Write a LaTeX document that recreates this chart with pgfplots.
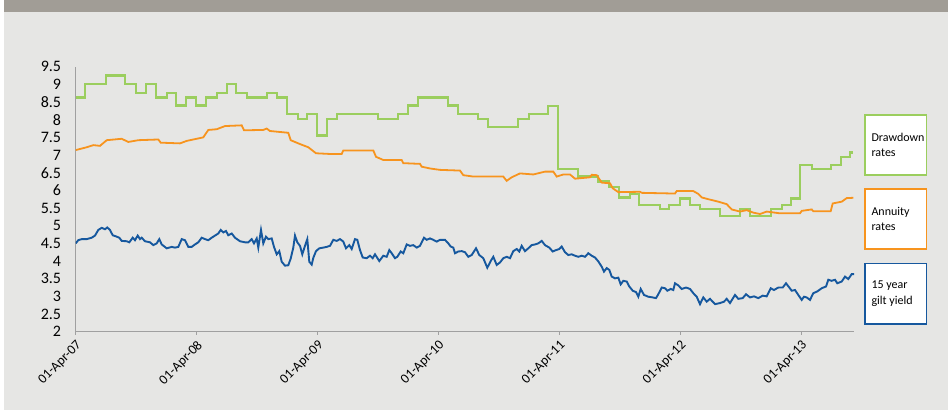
\documentclass[border=0pt]{standalone}
\usepackage{fontspec}
\setmainfont{Carlito}
\usepackage{pgfplots}
\pgfplotsset{compat=1.18}

\definecolor{bg}{RGB}{230,230,228}
\definecolor{topbar}{RGB}{161,157,150}
\definecolor{ddgreen}{RGB}{155,206,94}
\definecolor{annorange}{RGB}{247,148,30}
\definecolor{giltblue}{RGB}{22,88,158}
\definecolor{axisgray}{RGB}{160,160,160}

\begin{document}
\begin{tikzpicture}
\useasboundingbox (0,0) rectangle (948pt,410pt);
\fill[bg] (0,0) rectangle (948pt,410pt);
\fill[white] (0,0) rectangle (4pt,410pt);
\fill[topbar] (4pt,398pt) rectangle (948pt,410pt);

\begin{axis}[
    at={(75.6pt,78.3pt)}, anchor=south west,
    scale only axis,
    width=778.4pt, height=265pt,
    xmin=75.6, xmax=854,
    ymin=2, ymax=9.5,
    axis x line*=bottom, axis y line*=left,
    axis line style={axisgray, line width=1pt},
    xtick={75.6,196.5,317.4,438.3,559.2,680.2,801},
    xticklabels={01-Apr-07,01-Apr-08,01-Apr-09,01-Apr-10,01-Apr-11,01-Apr-12,01-Apr-13},
    ytick={2,2.5,...,9.5},
    tick align=outside,
    major tick length=3pt,
    xtick style={axisgray, line width=0.8pt},
    ytick style={draw=none},
    /pgf/number format/assume math mode=true,
    yticklabel style={font=\fontsize{16}{16}\selectfont, xshift=-8pt},
    xticklabel style={font=\fontsize{13.5}{13.5}\selectfont, rotate=45, anchor=north east},
]

% Drawdown rates
\addplot[const plot, color=ddgreen, line width=2.2pt] coordinates {
(75.7,8.63) (85,9.0) (105.7,9.25) (125,9.0) (136,8.75) (146,9.0) (155.7,8.63)
(166.7,8.75) (176,8.40) (186,8.63) (196,8.40) (206,8.63) (216.7,8.75) (226.7,9.0)
(236,8.75) (246.7,8.63) (267.3,8.75) (277.3,8.63) (287.3,8.16) (297.7,8.03)
(307.3,8.16) (316.7,7.55) (326.7,8.03) (336.7,8.15) (377.7,8.03) (397.7,8.15)
(408.3,8.40) (418.3,8.63) (447.7,8.40) (457.7,8.15) (478.3,8.03) (488.3,7.79)
(518.3,8.03) (529.3,8.15) (548.3,8.39) (557.7,6.60) (578.3,6.39) (598.3,6.25)
(609.3,6.10) (619,5.80) (630,5.90) (639.3,5.59) (660,5.47) (669.3,5.59) (680,5.77)
(690,5.59) (700,5.47) (720,5.28) (740,5.47) (750,5.28) (770.7,5.47) (781.7,5.59)
(790.7,5.77) (800,6.72) (811.7,6.60) (830.7,6.72) (840.7,6.95) (850,7.07) (853.3,7.07)
};

% Annuity rates
\addplot[color=annorange, line width=1.8pt] coordinates {
(75.7,7.14) (86.7,7.22) (93.3,7.28) (100,7.26) (106.7,7.42) (121.7,7.46) (128.3,7.37)
(138.3,7.42) (158.3,7.44) (160.7,7.35) (180,7.33) (186.7,7.40) (203.3,7.50) (208.3,7.71)
(216.7,7.73) (225,7.82) (241.7,7.84) (244,7.70) (263.3,7.71) (266.7,7.75) (270,7.68)
(288.3,7.63) (290.7,7.42) (300,7.31) (308.3,7.22) (316,7.05) (330,7.03) (341.7,7.03)
(343.3,7.13) (373.3,7.13) (376,6.95) (383.3,6.86) (401.7,6.86) (403.3,6.77) (420,6.75)
(421.7,6.67) (430,6.62) (440,6.58) (460,6.56) (463.3,6.43) (473.3,6.39) (503.3,6.39)
(506.7,6.27) (511.7,6.37) (520,6.48) (533.3,6.45) (545,6.53) (553.3,6.53) (556.7,6.39)
(563.3,6.45) (570,6.45) (575,6.33) (590,6.37) (591.7,6.44) (596.7,6.43) (601.7,6.22)
(610,6.20) (612.7,6.06) (618.3,5.95) (640,5.96) (641.7,5.93) (675,5.91) (676.7,5.98)
(693.3,5.98) (698.3,5.90) (701.7,5.80) (708.3,5.75) (718.3,5.68) (726.7,5.61)
(731.7,5.46) (740,5.40) (746.7,5.44) (753.3,5.37) (760,5.33) (766.7,5.40) (780,5.35)
(800,5.35) (801.7,5.42) (811.7,5.46) (813.3,5.41) (830.7,5.41) (832.7,5.63)
(841.7,5.68) (846.7,5.78) (853.3,5.79)
};

% 15 year gilt yield
\addplot[color=giltblue, line width=1.9pt] coordinates {
(75.7,4.50)(78.3,4.59)(81.7,4.62)(86.7,4.62)(91.7,4.66)(95,4.72)(98.3,4.88)(101.7,4.94)
(105,4.90)(107.3,4.95)(110,4.88)(112.7,4.73)(116.7,4.69)(119.3,4.66)(121.7,4.57)
(126.7,4.56)(129.3,4.53)(132.7,4.66)(135,4.59)(137.7,4.72)(140,4.62)(141.7,4.66)
(145,4.56)(150,4.53)(153.3,4.45)(156.7,4.50)(159.3,4.62)(161.7,4.47)(166.7,4.36)
(171.7,4.40)(175,4.38)(178.3,4.40)(181.7,4.62)(185,4.59)(188.3,4.40)(191.7,4.40)
(195,4.47)(198.3,4.53)(201.7,4.66)(205,4.62)(208.3,4.59)(211.7,4.66)(215,4.72)
(218.3,4.78)(220.7,4.88)(223.3,4.81)(226,4.85)(228.3,4.73)(231.7,4.78)(235,4.66)
(240,4.56)(245,4.53)(248.3,4.53)(251.7,4.62)(254,4.50)(256.7,4.64)(258.3,4.38)
(261,4.88)(263.3,4.50)(266,4.69)(268.3,4.62)(271.7,4.64)(274,4.40)(276.7,4.19)
(279.3,4.28)(281.7,3.98)(285,3.87)(288.3,3.88)(290.7,4.07)(293.3,4.38)(295,4.72)
(297.3,4.53)(300,4.43)(302.3,4.19)(305,4.43)(307.3,4.62)(309.3,3.98)(311.7,3.90)
(313.3,4.09)(316,4.28)(319.3,4.36)(323.3,4.38)(326.7,4.40)
(330,4.43)(333.3,4.60)(336.7,4.57)(340,4.62)(343.3,4.55)(346,4.36)(349.3,4.45)
(351.7,4.34)(355,4.62)(357.3,4.60)(360,4.31)(362.7,4.10)(366.7,4.08)(370,4.15)
(372.7,4.08)(375,4.19)(379.3,4.00)(383.3,4.15)(386.7,4.12)(389.3,4.31)(391.7,4.22)
(395,4.08)(397.3,4.12)(400.7,4.27)(403.3,4.22)(406.7,4.47)(410,4.43)(413.3,4.45)
(416.7,4.38)(420,4.43)(424,4.66)(426.7,4.60)(430,4.64)(433.3,4.60)(436.7,4.55)
(440,4.60)(445,4.60)(448.3,4.50)(450.7,4.41)(453.3,4.38)(455,4.22)(458.3,4.27)
(461.7,4.28)(465,4.25)(468.3,4.12)(471.7,4.17)(476,4.36)(479.3,4.17)(483.3,4.08)
(487.3,3.81)(490.7,4.00)(493.3,4.12)(496.7,3.89)(500,3.96)(503.3,4.08)(506.7,4.12)
(510,4.08)(513.3,4.28)(516.7,4.34)(519.3,4.27)(521.7,4.43)(525,4.28)(528.3,4.36)
(531.7,4.45)(535,4.47)(538.3,4.50)(541.7,4.57)(545,4.45)(549.3,4.38)(552.7,4.27)
(556,4.31)(559.3,4.34)(561.7,4.41)(565,4.25)(568.3,4.17)(571.7,4.19)(575,4.15)
(578.3,4.12)(581.7,4.15)(585,4.12)(588.3,4.22)
(591.7,4.15)(595,4.10)(598.3,3.99)(601.7,3.84)(604,3.70)(606.7,3.80)(609.3,3.75)
(611.7,3.56)(615,3.51)(618.3,3.53)(620.7,3.34)(623.3,3.44)(626.7,3.42)(629.3,3.28)
(632.7,3.16)(636,3.12)(638.3,2.99)(640.7,3.21)(644,3.04)(648.3,2.99)(652.7,2.97)
(656,2.95)(658.3,3.06)(661.7,3.25)(665,3.23)(667.3,3.16)(670.7,3.21)(673.3,3.18)
(675,3.37)(678.3,3.31)(681.7,3.21)(686,3.25)(690,3.21)(693.3,3.09)(696.7,2.99)
(700,2.78)(703.3,2.97)(706.7,2.85)(710,2.93)(715,2.78)(720,2.81)(724,2.85)(726.7,2.93)
(730,2.81)(735,3.04)(738.3,2.93)(742.7,2.95)(746,3.06)(750,2.97)(754,3.00)(758.3,2.95)
(762.7,3.02)(766.7,3.00)(770.7,3.23)(774,3.18)(778.3,3.25)(782.7,3.25)(786,3.37)
(789.3,3.25)(791.7,3.16)(795,3.18)(798.3,3.04)(801.7,2.90)(804,2.99)(806.7,2.97)
(810,2.90)(813.3,3.09)(817.3,3.14)(821.7,3.23)(826,3.28)(828.3,3.47)(831.7,3.44)
(835,3.47)(837.3,3.37)(841.7,3.42)(845,3.56)(848.3,3.49)(851.7,3.63)(854,3.63)
};
\end{axis}

% legend boxes
\tikzset{lbox/.style={draw=#1, fill=white, line width=1.7pt, minimum width=61.3pt,
    minimum height=60.3pt, inner sep=0pt}}
\tikzset{ltext/.style={font=\fontsize{12}{15.5}\selectfont, align=left, anchor=west}}
\node[lbox=ddgreen] at (895.8pt,265pt) {};
\node[ltext] at (868pt,265pt) {Drawdown\\rates};
\node[lbox=annorange] at (895.8pt,191pt) {};
\node[ltext] at (868pt,191pt) {Annuity\\rates};
\node[lbox=giltblue] at (895.8pt,116.2pt) {};
\node[ltext] at (868pt,116.2pt) {15 year\\gilt yield};
\end{tikzpicture}
\end{document}
